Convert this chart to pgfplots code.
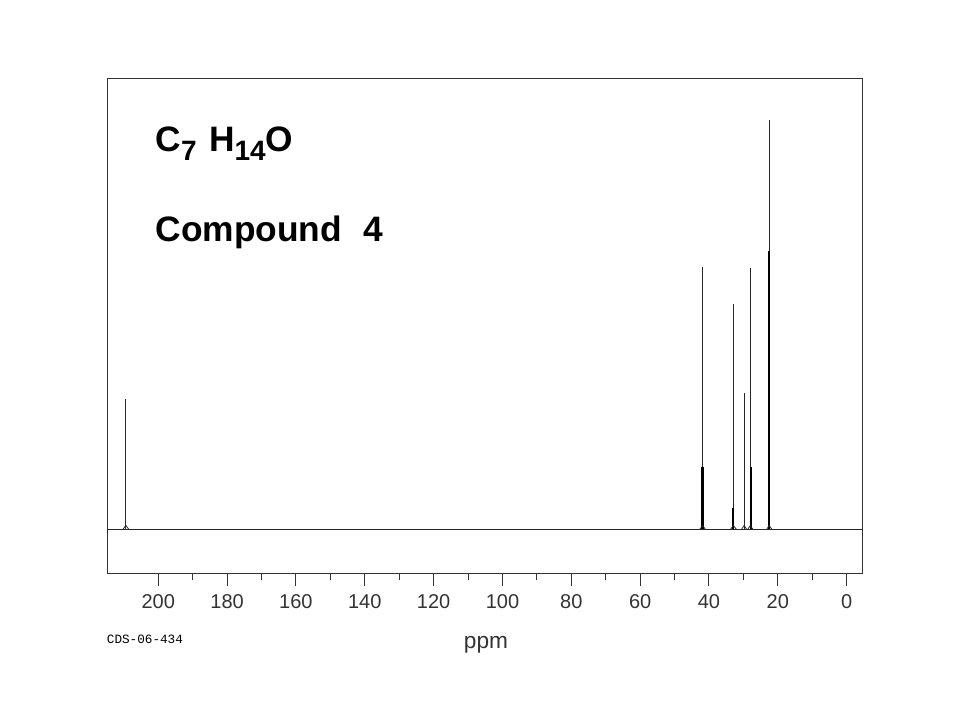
\documentclass[border=0pt]{standalone}
\usepackage{pgfplots}
\pgfplotsset{compat=1.18}
\usepackage{fontspec}
\setmainfont{Liberation Sans}
\newfontfamily\monofont{Liberation Mono}
\definecolor{frame}{HTML}{333333}
\definecolor{spec}{HTML}{262626}
\begin{document}
\begin{tikzpicture}
\path[use as bounding box] (0pt,0pt) rectangle (720pt,540pt);
\begin{axis}[
  at={(80.475pt,110.025pt)}, anchor=south west,
  scale only axis, width=566.775pt, height=370.725pt,
  x dir=reverse, xmin=-4.74, xmax=214.8, ymin=-44.3, ymax=450.3,
  axis line style={frame, line width=0.75pt},
  xtick={0,20,...,200}, minor xtick={10,30,...,190},
  xtick pos=bottom, ytick=\empty,
  tick align=outside,
  major tick length=9.75pt, minor tick length=5.25pt,
  every tick/.style={frame, line width=0.75pt},
  /pgf/number format/assume math mode=true,
  xticklabel style={font=\fontsize{15pt}{15pt}\selectfont, text=frame, yshift=-3pt},
  clip=false,
]
% baseline
\addplot[spec, line width=0.75pt] coordinates {(214.8,0) (-4.74,0)};
% thin tall peaks
\addplot[spec, ycomb, line width=0.75pt, mark=none] coordinates {
(209.4,129.7) (41.8,262.3) (32.9,224.7) (29.8,135.7) (28.0,260.7) (22.5,409.7)};
% thick lower parts (overlapping lines)
\addplot[black, ycomb, line width=1.6pt, mark=none] coordinates {
(41.9,62.3) (32.95,20.7) (27.9,62.3) (22.45,278.3)};
% small feet at the base of the lines
\addplot[spec, line width=0.6pt, unbounded coords=jump] coordinates {
(210.2,0) (209.4,3.5) (208.6,0) (nan,nan)
(42.6,0) (41.85,3.5) (41.1,0) (nan,nan)
(33.7,0) (32.9,3.5) (32.1,0) (nan,nan)
(30.5,0) (29.8,3.5) (29.1,0) (nan,nan)
(28.7,0) (28.0,3.5) (27.3,0) (nan,nan)
(23.2,0) (22.5,3.5) (21.8,0)};
\end{axis}
\node[anchor=base west, inner sep=0pt, font=\bfseries\fontsize{26.5pt}{26.5pt}\selectfont] at (116.5pt,426.2pt)
  {C\raisebox{-0.25em}{\fontsize{21pt}{21pt}\selectfont 7}\hspace{0.35em}H\raisebox{-0.25em}{\fontsize{21pt}{21pt}\selectfont 14}O};
\node[anchor=base west, inner sep=0pt, font=\bfseries\fontsize{26.5pt}{26.5pt}\selectfont] at (116.5pt,358.7pt)
  {Compound\hspace{0.6em}4};
\node[anchor=base west, inner sep=0pt, font=\monofont\fontsize{9.5pt}{9.5pt}\selectfont] at (80pt,57.5pt) {CDS-06-434};
\node[anchor=base, inner sep=0pt, text=frame, font=\fontsize{17pt}{17pt}\selectfont] at (364.5pt,53.5pt) {ppm};
\end{tikzpicture}
\end{document}
